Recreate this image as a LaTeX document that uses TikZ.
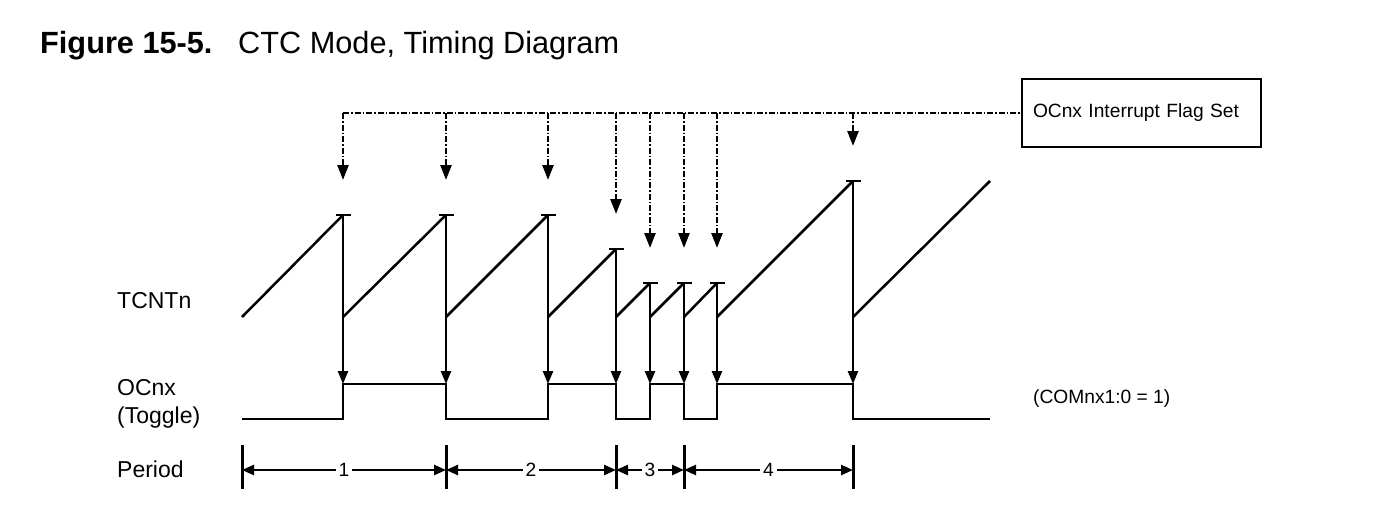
\documentclass[tikz,border=0pt]{standalone}
\usepackage{fontspec}
\setmainfont{Liberation Sans}
\usetikzlibrary{arrows.meta,positioning}

\begin{document}
\begin{tikzpicture}[x=1pt,y=-1pt]
	\def\lw{2.5pt}
	\def\hi{384}
	\def\lo{419}

	\tikzset{line/.style={draw,line width=\lw}}
	\tikzset{arrow/.style={line,-{Triangle[length=13pt,width=10pt]}}}
	\tikzset{flag/.style={line,dash pattern=on 6pt off 2pt on 1.5pt off 2pt,-{Triangle[length=15pt,width=11pt]}}}
	\tikzset{span/.style={line,{Triangle[length=12pt,width=10pt]}-{Triangle[length=12pt,width=10pt]}}}
	\tikzset{sig/.style={anchor=base west,inner sep=0pt,font=\fontsize{23}{27}\selectfont}}
	\tikzset{small/.style={font=\fontsize{19.2}{22}\selectfont}}

	\useasboundingbox (0,0) rectangle (1397,511);

	% Title
	\node[sig,font=\fontsize{30.7}{36}\selectfont\bfseries] (fig) at (40,53) {Figure 15-5.};
	\node[sig,font=\fontsize{30.7}{36}\selectfont] (title) at (238,53) {CTC Mode, Timing Diagram};

	% Signal names
	\node[sig] (tcnt) at (117,308) {TCNTn};
	\node[sig] (ocnx) at (117,395) {OCnx};
	\node[sig] (tog) at (117,423) {(Toggle)};
	\node[sig] (per) at (117,477) {Period};
	\node[sig,small] (com) at (1033,403) {(COMnx1:0 = 1)};

	\node[line,small,minimum width=239pt,minimum height=68pt,text width=217pt,inner xsep=11pt] (flagbox) at (1141.5,113) {OCnx Interrupt Flag Set};

	% Compare match: x/top of count
	\foreach \x/\t [count=\i] in {343/215,446/215,548/215,616/249,650/283,684/283,717/283,853/181} {
		\coordinate (top\i) at (\x,\t);
		\coordinate (bot\i) at (\x,317);
		\coordinate (hi\i) at (\x,\hi);
		\coordinate (lo\i) at (\x,\lo);
		\coordinate (irq\i) at (\x,113);
		\coordinate (tip\i) at (\x,\t-35);
	}
	\coordinate (s0) at (242,317);
	\coordinate (s9) at (990,181);
	\coordinate (oc0) at (242,\lo);
	\coordinate (oc9) at (990,\lo);

	% Interrupt flag
	\path[line,dash pattern=on 6pt off 2pt on 1.5pt off 2pt] (irq1) -- (flagbox.west);
	\foreach \i in {1,...,8}
		\path[flag] (irq\i) -- (tip\i);

	% TCNTn
	\path[line] (s0) -- (top1);
	\foreach \i/\j in {1/2,2/3,3/4,4/5,5/6,6/7,7/8}
		\path[line] (bot\i) -- (top\j);
	\path[line] (bot8) -- (s9);
	\foreach \i in {1,...,8} {
		\path[line] ([xshift=-7pt]top\i) -- ([xshift=8pt]top\i);
		\path[arrow] (top\i) -- (hi\i);
	}

	% OCnx
	\path[line] (oc0) -- (lo1) -- (hi1) -- (hi2) -- (lo2) -- (lo3) -- (hi3) -- (hi4) -- (lo4)
		-- (lo5) -- (hi5) -- (hi6) -- (lo6) -- (lo7) -- (hi7) -- (hi8) -- (lo8) -- (oc9);

	% Period
	\foreach \x [count=\i from 0] in {242,446,616,684,853} {
		\coordinate (pa\i) at (\x,445);
		\coordinate (pb\i) at (\x,489);
		\coordinate (pm\i) at (\x,470);
		\path[line,line width=3pt] (pa\i) -- (pb\i);
	}
	\foreach \i/\j/\n in {0/1/1,1/2/2,2/3/3,3/4/4}
		\path[span] (pm\i) -- node[small,fill=white,inner sep=3pt] {\n} (pm\j);
\end{tikzpicture}
\end{document}
